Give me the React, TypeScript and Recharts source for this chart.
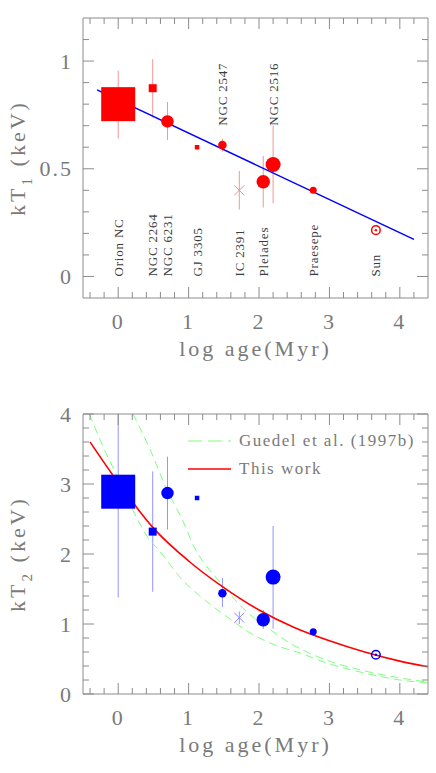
import React from 'react';
import { ComposedChart, Scatter, Line, XAxis, YAxis, ErrorBar, Legend } from 'recharts';

// cluster / star sample, same order in both panels
const objects = ['Orion NC', 'NGC 2264', 'NGC 6231', 'GJ 3305', 'NGC 2547', 'IC 2391', 'Pleiades', 'NGC 2516', 'Praesepe', 'Sun'];
const logAge = [0, 0.49, 0.7, 1.12, 1.48, 1.72, 2.06, 2.2, 2.77, 3.66];

const kT1 = [0.8, 0.874, 0.72, 0.6, 0.61, 0.4, 0.44, 0.52, 0.4, 0.215];
const kT1ErrLow = [0.16, 0.135, 0.086, 0, 0.03, 0.09, 0.12, 0.18, 0, 0];
const kT1ErrHigh = [0.155, 0.135, 0.09, 0, 0.03, 0.09, 0.12, 0.18, 0, 0];

const kT2 = [2.89, 2.32, 2.87, 2.8, 1.44, 1.09, 1.06, 1.67, 0.89, 0.56];
const kT2ErrLow = [1.51, 0.86, 0.52, 0, 0.2, 0.09, 0.13, 0.74, 0, 0];
const kT2ErrHigh = [1.11, 0.86, 0.52, 0, 0.22, 0.09, 0.14, 0.73, 0, 0];

// where the rotated names start (kT1 units)
const nameAnchorKT1 = [0, 0, 0, 0, 0.7, 0, 0, 0.7, 0, 0];

// straight fit in the top panel
const fitAge = [-0.3, 4.2];
const fitKT1 = [0.866, 0.172];

// curves in the bottom panel
const thisWorkAge = [-0.4, 0, 0.5, 1, 1.5, 2, 2.5, 3, 3.5, 4, 4.4];
const thisWorkKT2 = [3.6, 3.02, 2.37, 1.9, 1.52, 1.2, 0.95, 0.76, 0.6, 0.47, 0.39];
const guedelUpperAge = [0.21, 0.45, 0.7, 0.92, 1.06, 1.47, 1.83, 2.09, 2.45, 3, 3.5, 4, 4.4];
const guedelUpperKT2 = [4, 3.5, 2.9, 2.47, 2.14, 1.57, 1.17, 0.97, 0.72, 0.47, 0.33, 0.23, 0.17];
const guedelLowerAge = [-0.41, -0.2, 0, 0.21, 0.42, 0.59, 0.92, 1.16, 1.59, 1.83, 2.25, 2.54, 3, 3.5, 4, 4.4];
const guedelLowerKT2 = [4, 3.5, 3.08, 2.62, 2.24, 2.04, 1.62, 1.4, 1.07, 0.9, 0.69, 0.6, 0.43, 0.3, 0.2, 0.16];

// ticks
const xTicks = [-0.4, -0.2, 0, 0.2, 0.4, 0.6, 0.8, 1, 1.2, 1.4, 1.6, 1.8, 2, 2.2, 2.4, 2.6, 2.8, 3, 3.2, 3.4, 3.6, 3.8, 4, 4.2];
const xMajor = [0, 1, 2, 3, 4];
const kT1Ticks = [0, 0.1, 0.2, 0.3, 0.4, 0.5, 0.6, 0.7, 0.8, 0.9, 1, 1.1];
const kT1Major = [0, 0.5, 1];
const kT2Ticks = [0, 0.2, 0.4, 0.6, 0.8, 1, 1.2, 1.4, 1.6, 1.8, 2, 2.2, 2.4, 2.6, 2.8, 3, 3.2, 3.4, 3.6, 3.8, 4];
const kT2Major = [0, 1, 2, 3, 4];

const FONT = '"Liberation Serif", "Times New Roman", serif';
const AXIS_GRAY = '#8c8c8c';
const TEXT_GRAY = '#7a7a7a';
const W = 436;
const H = 380;
const MARGIN = { top: 17, right: 7, left: 0, bottom: 0 };

const markerStyle: Record<string, { kind: string; size: number }> = {
  'Orion NC': { kind: 'square', size: 34 },
  'NGC 2264': { kind: 'square', size: 8 },
  'NGC 6231': { kind: 'circle', size: 12.5 },
  'GJ 3305': { kind: 'square', size: 4.5 },
  'NGC 2547': { kind: 'circle', size: 8.5 },
  'IC 2391': { kind: 'cross', size: 10 },
  Pleiades: { kind: 'circle', size: 13.5 },
  'NGC 2516': { kind: 'circle', size: 15 },
  Praesepe: { kind: 'circle', size: 7 },
  Sun: { kind: 'sun', size: 8.6 },
};

const isIn = (list: number[], v: number) => list.some((m) => Math.abs(m - v) < 1e-9);

function makeTick(side: 'bottom' | 'top' | 'left' | 'right', majors: number[]) {
  return function Tick(props: any) {
    const { x, y, payload } = props;
    const v = payload.value;
    const major = isIn(majors, v);
    const len = major ? 11 : 6;
    let x2 = x;
    let y2 = y;
    if (side === 'bottom') y2 = y - len;
    if (side === 'top') y2 = y + len;
    if (side === 'left') x2 = x + len;
    if (side === 'right') x2 = x - len;
    const txt = { fontFamily: FONT, fontSize: 22, fill: TEXT_GRAY, letterSpacing: 2 };
    return (
      <g>
        <line x1={x} y1={y} x2={x2} y2={y2} stroke={AXIS_GRAY} strokeWidth={1} />
        {major && side === 'bottom' && (
          <text x={x} y={y + 23} textAnchor="middle" dominantBaseline="central" {...txt}>
            {String(v)}
          </text>
        )}
        {major && side === 'left' && (
          <text x={x - 10} y={y} textAnchor="end" dominantBaseline="central" {...txt}>
            {String(v)}
          </text>
        )}
      </g>
    );
  };
}

function makeMarker(color: string, light: string) {
  return function MarkerShape(props: any) {
    const { cx, cy, payload } = props;
    const st = markerStyle[payload.name];
    const s = st.size;
    if (st.kind === 'square') {
      return <rect x={cx - s / 2} y={cy - s / 2} width={s} height={s} fill={color} />;
    }
    if (st.kind === 'circle') {
      return <circle cx={cx} cy={cy} r={s / 2} fill={color} />;
    }
    if (st.kind === 'sun') {
      return (
        <g>
          <circle cx={cx} cy={cy} r={s / 2} fill="none" stroke={color} strokeWidth={1.5} />
          <circle cx={cx} cy={cy} r={1.2} fill={color} />
        </g>
      );
    }
    const h = s / 2;
    return (
      <g stroke={light} strokeWidth={1}>
        <line x1={cx - h} y1={cy - h} x2={cx + h} y2={cy + h} />
        <line x1={cx - h} y1={cy + h} x2={cx + h} y2={cy - h} />
      </g>
    );
  };
}

function NameTag(props: any) {
  const { cx, cy, payload } = props;
  return (
    <text
      x={cx}
      y={cy}
      transform={`rotate(-90 ${cx} ${cy})`}
      textAnchor="start"
      dominantBaseline="central"
      fontFamily={FONT}
      fontSize={13}
      letterSpacing={0.8}
      fill="#3c3c3c"
    >
      {payload.name}
    </text>
  );
}

const Nothing = () => <g />;

function XTitle(props: any) {
  const vb = props.viewBox || { x: 83, y: 298, width: 345 };
  return (
    <text
      x={vb.x + vb.width / 2}
      y={vb.y + 58}
      textAnchor="middle"
      fontFamily={FONT}
      fontSize={22}
      letterSpacing={3}
      fill={TEXT_GRAY}
    >
      log age(Myr)
    </text>
  );
}

function makeYTitle(sub: string) {
  return function YTitle(props: any) {
    const vb = props.viewBox || { y: 18, height: 280 };
    const cy = vb.y + vb.height / 2;
    const x = 25;
    return (
      <text
        x={x}
        y={cy}
        transform={`rotate(-90 ${x} ${cy})`}
        textAnchor="middle"
        fontFamily={FONT}
        fontSize={22}
        letterSpacing={3}
        fill={TEXT_GRAY}
      >
        <tspan>kT</tspan>
        <tspan fontSize={15} dy={7}>
          {sub}
        </tspan>
        <tspan dy={-7}> (keV)</tspan>
      </text>
    );
  };
}

function GuedelLegend() {
  const row = { display: 'flex', alignItems: 'center', height: 28 };
  return (
    <div style={{ fontFamily: FONT, fontSize: 17, letterSpacing: 1.5, color: TEXT_GRAY, whiteSpace: 'nowrap' }}>
      <div style={row}>
        <svg width={43} height={4}>
          <line x1={0} y1={2} x2={43} y2={2} stroke="#7dff7d" strokeWidth={1} strokeDasharray="14 6" />
        </svg>
        <span style={{ marginLeft: 8 }}>Guedel et al. (1997b)</span>
      </div>
      <div style={row}>
        <svg width={43} height={4}>
          <line x1={0} y1={2} x2={43} y2={2} stroke="#ff0000" strokeWidth={1.6} />
        </svg>
        <span style={{ marginLeft: 8 }}>This work</span>
      </div>
    </div>
  );
}

function axes(yTicks: number[], yMajor: number[], yDomain: number[], sub: string) {
  return [
    <XAxis
      key="xb"
      xAxisId={0}
      dataKey="x"
      type="number"
      domain={[-0.5, 4.4]}
      allowDataOverflow
      ticks={xTicks}
      interval={0}
      tickSize={0}
      tickMargin={0}
      tickLine={false}
      height={82}
      stroke={AXIS_GRAY}
      tick={makeTick('bottom', xMajor)}
      label={XTitle}
    />,
    <XAxis
      key="xt"
      xAxisId="top"
      orientation="top"
      dataKey="x"
      type="number"
      domain={[-0.5, 4.4]}
      allowDataOverflow
      ticks={xTicks}
      interval={0}
      tickSize={0}
      tickMargin={0}
      tickLine={false}
      height={1}
      stroke={AXIS_GRAY}
      tick={makeTick('top', xMajor)}
    />,
    <YAxis
      key="yl"
      yAxisId={0}
      dataKey="y"
      type="number"
      domain={yDomain}
      allowDataOverflow
      ticks={yTicks}
      interval={0}
      tickSize={0}
      tickMargin={0}
      tickLine={false}
      width={83}
      stroke={AXIS_GRAY}
      tick={makeTick('left', yMajor)}
      label={makeYTitle(sub)}
    />,
    <YAxis
      key="yr"
      yAxisId="right"
      orientation="right"
      dataKey="y"
      type="number"
      domain={yDomain}
      allowDataOverflow
      ticks={yTicks}
      interval={0}
      tickSize={0}
      tickMargin={0}
      tickLine={false}
      width={1}
      stroke={AXIS_GRAY}
      tick={makeTick('right', yMajor)}
    />,
  ];
}

export default function App() {
  const kT1Points = objects.map((name, i) => ({ name, x: logAge[i], y: kT1[i], err: [kT1ErrLow[i], kT1ErrHigh[i]] }));
  const kT2Points = objects.map((name, i) => ({ name, x: logAge[i], y: kT2[i], err: [kT2ErrLow[i], kT2ErrHigh[i]] }));
  const nameTags = objects.map((name, i) => ({ name, x: logAge[i], y: nameAnchorKT1[i] }));
  const fitLine = fitAge.map((x, i) => ({ x, y: fitKT1[i] }));
  const thisWork = thisWorkAge.map((x, i) => ({ x, y: thisWorkKT2[i] }));
  const guedelUpper = guedelUpperAge.map((x, i) => ({ x, y: guedelUpperKT2[i] }));
  const guedelLower = guedelLowerAge.map((x, i) => ({ x, y: guedelLowerKT2[i] }));

  return (
    <div style={{ position: 'absolute', left: 0, top: 0, width: W, height: 773, background: '#fff' }}>
      <div style={{ position: 'absolute', left: 0, top: 0 }}>
        <ComposedChart width={W} height={H} margin={MARGIN}>
          {axes(kT1Ticks, kT1Major, [-0.1, 1.2], '1')}
          <Scatter data={nameTags} dataKey="y" shape={NameTag} isAnimationActive={false} />
          <Scatter data={kT1Points} xAxisId="top" yAxisId="right" dataKey="y" shape={Nothing} isAnimationActive={false} />
          <Scatter data={kT1Points} dataKey="y" shape={makeMarker('#ff0000', '#f28c8c')} isAnimationActive={false}>
            <ErrorBar dataKey="err" direction="y" width={0} stroke="#f49595" strokeWidth={1} isAnimationActive={false} />
          </Scatter>
          <Line data={fitLine} dataKey="y" type="linear" stroke="#0000ff" strokeWidth={1.5} dot={false} isAnimationActive={false} />
        </ComposedChart>
      </div>
      <div style={{ position: 'absolute', left: 0, top: 396 }}>
        <ComposedChart width={W} height={H} margin={MARGIN}>
          {axes(kT2Ticks, kT2Major, [0, 4], '2')}
          <Scatter data={kT2Points} xAxisId="top" yAxisId="right" dataKey="y" shape={Nothing} isAnimationActive={false} />
          <Scatter data={kT2Points} dataKey="y" shape={makeMarker('#0000ff', '#8c8cff')} isAnimationActive={false}>
            <ErrorBar dataKey="err" direction="y" width={0} stroke="#9494ff" strokeWidth={1} isAnimationActive={false} />
          </Scatter>
          <Line data={guedelUpper} dataKey="y" type="monotone" stroke="#7dff7d" strokeWidth={1} strokeDasharray="8 5" dot={false} isAnimationActive={false} />
          <Line data={guedelLower} dataKey="y" type="monotone" stroke="#7dff7d" strokeWidth={1} strokeDasharray="8 5" dot={false} isAnimationActive={false} />
          <Line data={thisWork} dataKey="y" type="monotone" stroke="#ff0000" strokeWidth={1.6} dot={false} isAnimationActive={false} />
          <Legend
            layout="horizontal"
            verticalAlign="middle"
            align="center"
            wrapperStyle={{ top: 31, left: 188, width: 'auto' }}
            content={GuedelLegend}
          />
        </ComposedChart>
      </div>
    </div>
  );
}
